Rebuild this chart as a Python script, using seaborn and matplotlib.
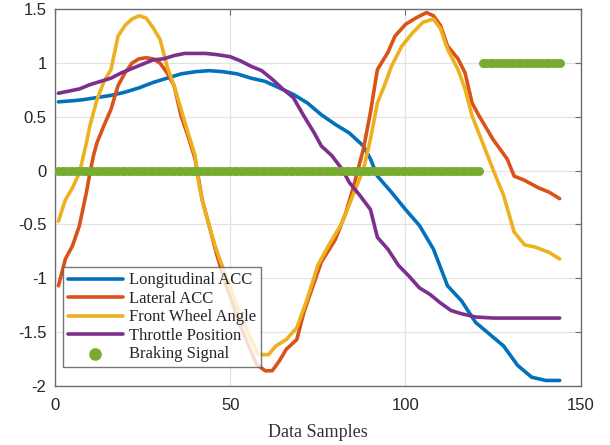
import numpy as np
import pandas as pd
import matplotlib
matplotlib.use("Agg")
import matplotlib.pyplot as plt
import seaborn as sns

# values (sample index, value)
long_x = [1, 5, 8, 12, 16, 20, 24, 28, 32, 36, 40, 44, 48, 52, 56, 60, 64, 68,
          72, 76, 80, 84, 88, 90, 92, 96, 100, 104, 108, 112, 116, 120, 124,
          128, 132, 136, 140, 144]
long_acc = [0.64, 0.65, 0.66, 0.68, 0.70, 0.73, 0.77, 0.82, 0.86, 0.90, 0.92,
            0.93, 0.92, 0.90, 0.86, 0.83, 0.77, 0.71, 0.63, 0.52, 0.43, 0.35,
            0.23, 0.11, -0.05, -0.20, -0.36, -0.51, -0.73, -1.07, -1.21, -1.41,
            -1.52, -1.63, -1.81, -1.92, -1.95, -1.95]

lat_x = [1, 3, 5, 7, 9, 10, 11, 12, 14, 16, 18, 20, 22, 24, 26, 28, 30, 32, 34,
         36, 38, 40, 42, 44, 46, 48, 53, 57.5, 60, 62, 64, 66, 69, 71, 73, 76,
         80, 83, 85, 88, 90, 92, 95, 97, 100, 103, 106, 108, 110, 112, 115,
         117, 119, 121, 125, 129, 131, 134, 138, 141, 144]
lat_acc = [-1.07, -0.82, -0.70, -0.51, -0.20, -0.02, 0.14, 0.26, 0.42, 0.57,
           0.79, 0.91, 1.00, 1.04, 1.05, 1.04, 1.00, 0.91, 0.79, 0.51, 0.32,
           0.11, -0.27, -0.51, -0.76, -0.98, -1.45, -1.80, -1.86, -1.86, -1.77,
           -1.66, -1.57, -1.32, -1.13, -0.85, -0.64, -0.39, -0.17, 0.20, 0.54,
           0.94, 1.10, 1.25, 1.36, 1.42, 1.47, 1.44, 1.35, 1.16, 1.04, 0.91,
           0.63, 0.51, 0.29, 0.11, -0.05, -0.09, -0.16, -0.20, -0.26]

fwa_x = [1, 3, 5, 7, 9, 10, 12, 14, 16, 18, 20, 22, 24, 26, 28, 30, 32, 34, 36,
         38, 40, 41, 42, 44, 46, 48, 53, 58, 61, 63, 66, 69, 72, 75, 78, 82,
         85, 88, 90, 92, 94, 96, 99, 102, 105, 108, 110, 112, 115, 117, 119,
         122, 125, 128, 131, 134, 137, 141, 144]
fwa = [-0.47, -0.27, -0.16, -0.02, 0.26, 0.42, 0.66, 0.83, 0.94, 1.25, 1.35,
       1.41, 1.44, 1.42, 1.33, 1.22, 0.97, 0.79, 0.57, 0.35, 0.14, -0.11,
       -0.27, -0.51, -0.73, -0.91, -1.35, -1.71, -1.71, -1.63, -1.57, -1.46,
       -1.19, -0.88, -0.70, -0.48, -0.23, 0.01, 0.29, 0.63, 0.79, 0.97, 1.16,
       1.28, 1.38, 1.41, 1.32, 1.13, 0.94, 0.76, 0.51, 0.26, 0.01, -0.23,
       -0.57, -0.69, -0.71, -0.76, -0.82]

thr_x = [1, 4, 7, 10, 13, 16, 19, 22, 25, 28, 31, 34, 37, 40, 43, 46, 50, 53,
         56, 59, 62, 65, 68, 71, 74, 76, 79, 82, 84, 87, 90, 92, 95, 98, 101,
         104, 107, 110, 113, 116, 120, 125, 130, 144]
throttle = [0.72, 0.74, 0.76, 0.80, 0.83, 0.86, 0.91, 0.95, 0.99, 1.03, 1.04,
            1.07, 1.09, 1.09, 1.09, 1.08, 1.06, 1.02, 0.97, 0.93, 0.85, 0.76,
            0.68, 0.51, 0.35, 0.23, 0.14, 0.01, -0.11, -0.23, -0.36, -0.62,
            -0.73, -0.88, -0.98, -1.09, -1.15, -1.23, -1.30, -1.33, -1.36,
            -1.37, -1.37, -1.37]

# braking signal: off for samples 1-121, on for 122-144
braking = [0] * 121 + [1] * 23
brake_x = list(range(1, len(braking) + 1))

colors = ['#0072BD', '#D95319', '#EDB120', '#7E2F8E', '#77AC30']

sns.set_theme(style="white")
plt.rcParams['font.family'] = ['Liberation Sans', 'DejaVu Sans']

fig = plt.figure(figsize=(6.1, 4.45), dpi=100)
ax = fig.add_axes([0.090, 0.133, 0.862, 0.846])

lw = 2.6
sns.lineplot(x=long_x, y=long_acc, ax=ax, color=colors[0], lw=lw, label='Longitudinal ACC')
sns.lineplot(x=lat_x, y=lat_acc, ax=ax, color=colors[1], lw=lw, label='Lateral ACC')
sns.lineplot(x=fwa_x, y=fwa, ax=ax, color=colors[2], lw=lw, label='Front Wheel Angle')
sns.lineplot(x=thr_x, y=throttle, ax=ax, color=colors[3], lw=lw, label='Throttle Position')
sns.scatterplot(x=brake_x, y=braking, ax=ax, color=colors[4], s=42, linewidth=0,
                label='Braking Signal', zorder=5)

ax.set_xlim(0, 150)
ax.set_ylim(-2, 1.5)
ax.set_xticks([0, 50, 100, 150])
ax.set_yticks([-2, -1.5, -1, -0.5, 0, 0.5, 1, 1.5])
ax.set_yticklabels(['-2', '-1.5', '-1', '-0.5', '0', '0.5', '1', '1.5'])
ax.grid(True, color='#e3e3e3', lw=0.9)
ax.set_axisbelow(True)
for sp in ax.spines.values():
    sp.set_color('#6e6e6e')
    sp.set_linewidth(1.0)
ax.tick_params(direction='in', length=4, width=0.8, color='#6e6e6e',
               top=True, right=True, labelsize=12, labelcolor='#262626', pad=6)
ax.tick_params(axis='x', pad=9)

ax.set_xlabel('Data Samples', family=['Liberation Serif'], fontsize=13,
              color='#333333', labelpad=8)
ax.set_ylabel('')

leg = ax.legend(loc='lower left', bbox_to_anchor=(0.0146, 0.049),
                prop={'family': 'Liberation Serif', 'size': 12},
                frameon=True, fancybox=False, edgecolor='#555555',
                handlelength=3.3, handletextpad=0.4, labelspacing=0.15,
                borderpad=0.3, borderaxespad=0, markerscale=1.4)
leg.get_frame().set_linewidth(1.0)

fig.savefig('out.png', dpi=100)
